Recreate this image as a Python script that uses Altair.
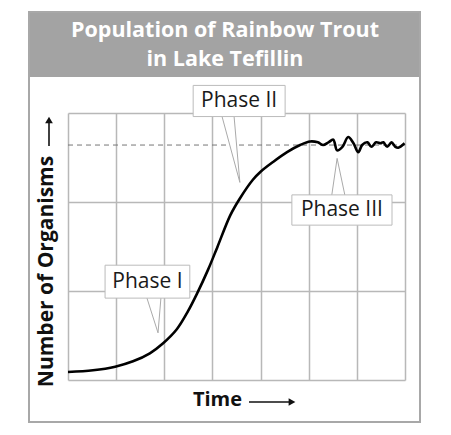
import altair as alt
import pandas as pd

# ---- data ----
curve_x = [0, 0.52, 0.98, 1.35, 1.70, 1.97, 2.26, 2.49, 2.68, 2.91, 3.10, 3.37, 3.57, 3.84, 4.0, 4.26, 4.55,
           4.82, 5.03, 5.19, 5.30, 5.41, 5.51, 5.59, 5.70, 5.82, 5.93, 6.03, 6.11, 6.22, 6.30, 6.40, 6.49,
           6.55, 6.63, 6.72, 6.80, 6.86, 6.99]
curve_y = [0.09, 0.11, 0.15, 0.21, 0.30, 0.41, 0.57, 0.77, 0.97, 1.24, 1.49, 1.85, 2.04, 2.25, 2.34, 2.45, 2.56,
           2.64, 2.68, 2.67, 2.64, 2.67, 2.70, 2.58, 2.62, 2.73, 2.66, 2.56, 2.64, 2.67, 2.62, 2.67, 2.66,
           2.67, 2.62, 2.67, 2.62, 2.61, 2.66]
capacity = 2.64

x_grid = [0, 1, 2, 3, 4, 5, 6, 7]
y_grid = [0, 1, 2, 3]

phase_labels = ["Phase I", "Phase II", "Phase III"]
box_x1 = [0.77, 2.60, 4.65]
box_x2 = [2.53, 4.51, 6.73]
box_y1 = [0.92, 2.96, 1.74]
box_y2 = [1.29, 3.31, 2.08]
ptr_base_a = [1.64, 3.20, 5.48]
ptr_base_b = [1.93, 3.45, 5.75]
ptr_base_y = [0.92, 2.96, 2.08]
ptr_tip_x = [1.87, 3.57, 5.59]
ptr_tip_y = [0.53, 2.22, 2.49]

title_lines = ["Population of Rainbow Trout", "in Lake Tefillin"]
x_title = "Time"
y_title = "Number of Organisms"

FONT = "Open Sans"
W, H = 337, 267

curve = pd.DataFrame({"x": curve_x, "y": curve_y})
boxes = pd.DataFrame({"label": phase_labels, "x1": box_x1, "x2": box_x2, "y1": box_y1, "y2": box_y2})
boxes["xc"] = (boxes.x1 + boxes.x2) / 2
boxes["yc"] = (boxes.y1 + boxes.y2) / 2
ptr_rows = []
for i, lab in enumerate(phase_labels):
    ptr_rows.append({"label": lab, "o": 0, "x": ptr_base_a[i], "y": ptr_base_y[i]})
    ptr_rows.append({"label": lab, "o": 1, "x": ptr_tip_x[i], "y": ptr_tip_y[i]})
    ptr_rows.append({"label": lab, "o": 2, "x": ptr_base_b[i], "y": ptr_base_y[i]})
ptrs = pd.DataFrame(ptr_rows)

xs = alt.Scale(domain=[0, 7], nice=False, zero=False)
ys = alt.Scale(domain=[0, 3], nice=False, zero=False)

xaxis = alt.Axis(values=x_grid, grid=True, labels=False, ticks=False, domain=False,
                 title=x_title, titleFont=FONT, titleFontSize=20, titleFontWeight="bold",
                 titleColor="#111", titlePadding=9, titleX=149,
                 gridColor="#b8b8b8", gridWidth=1.5)
yaxis = alt.Axis(values=y_grid, grid=True, labels=False, ticks=False, domain=False,
                 title=y_title, titleFont=FONT, titleFontSize=21, titleFontWeight="bold",
                 titleColor="#111", titlePadding=12, titleY=158,
                 gridColor="#b8b8b8", gridWidth=1.5)

one = alt.Data(values=[{}])

header = alt.Chart(one).mark_rect(color="#a3a3a3").encode(
    x=alt.value(-38), x2=alt.value(352), y=alt.value(-101), y2=alt.value(-36))
frame = alt.Chart(one).mark_rect(fill=None, stroke="#a8a8a8", strokeWidth=2).encode(
    x=alt.value(-39), x2=alt.value(352), y=alt.value(-101), y2=alt.value(309))

title_layers = []
for t, yy in zip(title_lines, [-76, -47]):
    title_layers.append(
        alt.Chart(alt.Data(values=[{"t": t}])).mark_text(
            font=FONT, fontSize=21.5, fontWeight="bold", color="white",
            align="center", baseline="alphabetic").encode(
            text="t:N", x=alt.value(157), y=alt.value(yy)))

# axis-title arrows
x_arrow = alt.Chart(one).mark_rule(color="#111", strokeWidth=1.6).encode(
    x=alt.value(181), x2=alt.value(223), y=alt.value(289))
x_head = alt.Chart(one).mark_point(shape="triangle-right", filled=True, color="#111", opacity=1, size=60).encode(
    x=alt.value(224), y=alt.value(289))
y_arrow = alt.Chart(one).mark_rule(color="#111", strokeWidth=1.6).encode(
    x=alt.value(-19), y=alt.value(33), y2=alt.value(8))
y_head = alt.Chart(one).mark_point(shape="triangle-up", filled=True, color="#111", opacity=1, size=60).encode(
    x=alt.value(-19), y=alt.value(7))

base = alt.Chart(curve).mark_line(opacity=0).encode(
    x=alt.X("x:Q", scale=xs, axis=xaxis), y=alt.Y("y:Q", scale=ys, axis=yaxis))

dash = alt.Chart(one).mark_rule(color="#777", strokeDash=[5, 4], strokeWidth=1).encode(
    x=alt.datum(0, scale=xs), x2=alt.datum(7), y=alt.datum(capacity, scale=ys))

pointer = alt.Chart(ptrs).mark_line(color="#aaa", strokeWidth=1, fill="white").encode(
    x=alt.X("x:Q", scale=xs), y=alt.Y("y:Q", scale=ys), detail="label:N", order="o:Q")

box = alt.Chart(boxes).mark_rect(fill="white", stroke="#bbb", strokeWidth=1).encode(
    x=alt.X("x1:Q", scale=xs), x2="x2:Q", y=alt.Y("y1:Q", scale=ys), y2="y2:Q")

box_text = alt.Chart(boxes).mark_text(font=FONT, fontSize=21, color="#1a1a1a", baseline="middle").encode(
    x=alt.X("xc:Q", scale=xs), y=alt.Y("yc:Q", scale=ys), text="label:N")

line = alt.Chart(curve).mark_line(color="black", strokeWidth=2.6, interpolate="catmull-rom").encode(
    x=alt.X("x:Q", scale=xs), y=alt.Y("y:Q", scale=ys))

chart = alt.layer(header, frame, *title_layers, x_arrow, x_head, y_arrow, y_head,
                  base, dash, pointer, box, box_text, line).properties(
    width=W, height=H,
    autosize=alt.AutoSizeParams(type="none"),
    padding={"left": 60, "top": 105, "right": 38, "bottom": 47},
    background="white",
).configure_view(stroke=None)

chart.save("out.html", embed_options={"renderer": "svg", "actions": False})
